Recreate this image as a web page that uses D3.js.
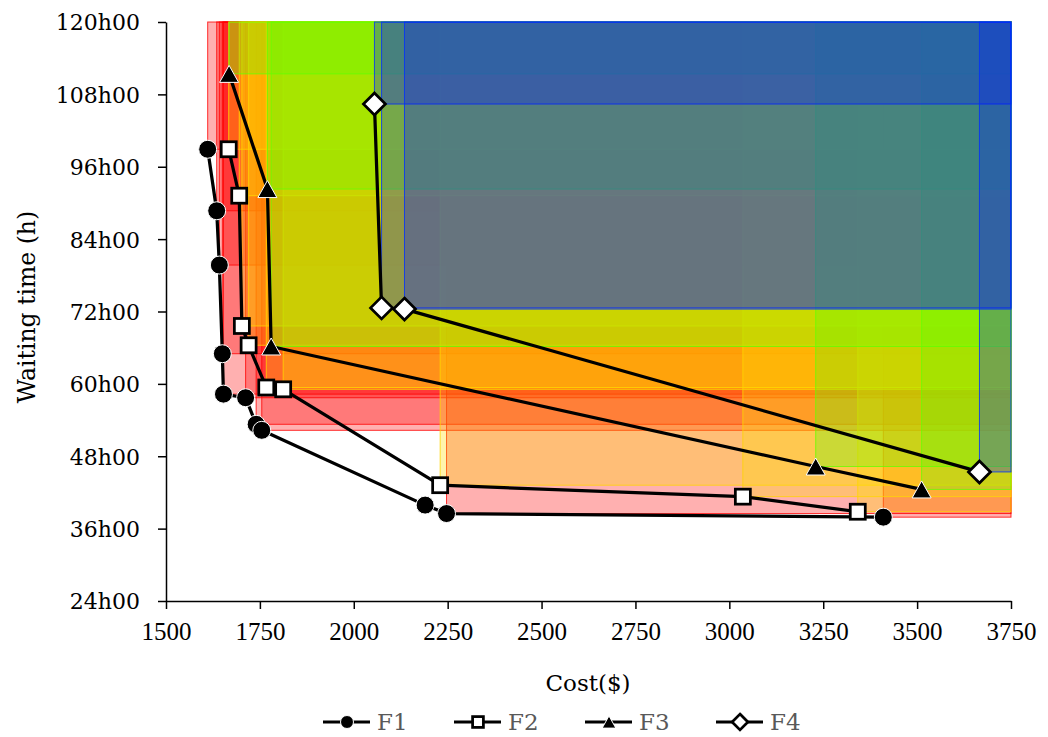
<!DOCTYPE html>
<html>
<head>
<meta charset="utf-8">
<script src="https://cdn.jsdelivr.net/npm/d3@7"></script>
<style>
  body { margin: 0; background: #fff; }
  svg text { font-family: "DejaVu Serif", serif; }
</style>
</head>
<body>
<svg id="chart" width="1048" height="737"></svg>
<script>
// values
const f1Cost = [1611, 1635, 1642, 1650, 1653, 1712, 1740, 1755, 2190, 2247, 3410];
const f1Time = [98.9, 88.7, 79.7, 65.0, 58.3, 57.7, 53.3, 52.3, 39.9, 38.5, 37.9];
const f1Box  = [1, 1, 1, 1, 1, 1, 1, 1, 0, 1, 1];   // point 9 has no shaded box in the original
const f2Cost = [1667, 1695, 1702, 1720, 1767, 1812, 2230, 3036, 3342];
const f2Time = [98.9, 91.2, 69.6, 66.4, 59.4, 59.1, 43.2, 41.3, 38.8];
const f3Cost = [1668, 1770, 1780, 3230, 3512];
const f3Time = [111.4, 92.3, 66.2, 46.3, 42.5];
const f4Cost = [2055, 2074, 2135, 3666];
const f4Time = [106.4, 72.6, 72.4, 45.4];

const xTicks = [1500, 1750, 2000, 2250, 2500, 2750, 3000, 3250, 3500, 3750];
const yTicks = [24, 36, 48, 60, 72, 84, 96, 108, 120];
const seriesNames = ["F1", "F2", "F3", "F4"];

const series = [
  { name: "F1", cost: f1Cost, time: f1Time, box: f1Box, fill: "#ff0000", fop: 0.31, stroke: "#ff0000", marker: "circle" },
  { name: "F2", cost: f2Cost, time: f2Time, fill: "#ffdc00", fop: 0.32, stroke: "#ffd400", marker: "square" },
  { name: "F3", cost: f3Cost, time: f3Time, fill: "#5eff00", fop: 0.32, stroke: "#66ff00", marker: "triangle" },
  { name: "F4", cost: f4Cost, time: f4Time, fill: "#0014ff", fop: 0.29, stroke: "#0030ff", marker: "diamond" }
];

const svg = d3.select("#chart");
const mLeft = 166, mRight = 1011, mTop = 22, mBottom = 601;

const x = d3.scaleLinear().domain([1500, 3750]).range([mLeft, mRight]);
const y = d3.scaleLinear().domain([24, 120]).range([mBottom, mTop]);

// shaded boxes: each point to the top-right corner
const boxes = svg.append("g");
series.forEach(s => {
  const pts = s.cost.map((c, i) => ({ c, t: s.time[i], b: s.box ? s.box[i] : 1 })).filter(d => d.b);
  boxes.selectAll(null)
    .data(pts)
    .enter()
    .append("rect")
    .attr("x", d => x(d.c))
    .attr("y", y(120))
    .attr("width", d => x(3750) - x(d.c))
    .attr("height", d => y(d.t) - y(120))
    .attr("fill", s.fill)
    .attr("fill-opacity", s.fop)
    .attr("stroke", s.stroke)
    .attr("stroke-opacity", 0.8)
    .attr("stroke-width", 1);
});

// axes
const xAxis = svg.append("g")
  .attr("transform", "translate(0," + mBottom + ")")
  .call(d3.axisBottom(x).tickValues(xTicks).tickFormat(d3.format("d")).tickSize(8).tickSizeOuter(0).tickPadding(13));
xAxis.selectAll("text").style("font-family", "Liberation Serif").style("font-size", "25px").attr("fill", "#000");

const yAxis = svg.append("g")
  .attr("transform", "translate(" + mLeft + ",0)")
  .call(d3.axisLeft(y).tickValues(yTicks).tickFormat(d => d + "h00").tickSize(8).tickSizeOuter(0).tickPadding(18));
yAxis.selectAll("text").style("font-size", "22px").attr("fill", "#000").attr("dy", "0.36em");

svg.selectAll(".domain, .tick line").attr("stroke", "#000").attr("stroke-width", 1.5);

svg.append("text")
  .attr("transform", "translate(27," + 307 + ") rotate(-90)")
  .attr("text-anchor", "middle")
  .attr("dy", "0.36em")
  .style("font-size", "23.5px")
  .text("Waiting time (h)");

svg.append("text")
  .attr("x", 588)
  .attr("y", 683)
  .attr("dy", "0.36em")
  .attr("text-anchor", "middle")
  .style("font-size", "23px")
  .text("Cost($)");

// markers
function drawMarker(g, type, cx, cy, k) {
  if (type === "circle") {
    g.append("circle").attr("cx", cx).attr("cy", cy).attr("r", 9 * k)
      .attr("fill", "#000").attr("stroke", "#fff").attr("stroke-width", 1);
  } else if (type === "square") {
    const h = 7.5 * k;
    g.append("rect").attr("x", cx - h).attr("y", cy - h).attr("width", 2 * h).attr("height", 2 * h)
      .attr("fill", "#fff").attr("stroke", "#000").attr("stroke-width", 2.75);
  } else if (type === "triangle") {
    const w = 9.5 * k, hh = 8.5 * k;
    g.append("path").attr("d", `M${cx},${cy - hh}L${cx + w},${cy + hh}L${cx - w},${cy + hh}Z`)
      .attr("fill", "#000").attr("stroke", "#fff").attr("stroke-width", 1);
  } else {
    const r = 11 * k;
    g.append("path").attr("d", `M${cx},${cy - r}L${cx + r},${cy}L${cx},${cy + r}L${cx - r},${cy}Z`)
      .attr("fill", "#fff").attr("stroke", "#000").attr("stroke-width", 2.75);
  }
}

const line = d3.line().x(d => x(d[0])).y(d => y(d[1]));
const lines = svg.append("g");
series.forEach(s => {
  lines.append("path")
    .datum(s.cost.map((c, i) => [c, s.time[i]]))
    .attr("d", line)
    .attr("fill", "none")
    .attr("stroke", "#000")
    .attr("stroke-width", 3.25)
    .attr("stroke-linejoin", "round");
});
const marks = svg.append("g");
series.forEach(s => {
  s.cost.forEach((c, i) => drawMarker(marks, s.marker, x(c), y(s.time[i]), 1));
});

// legend
const legend = svg.append("g");
const ly = 722;
seriesNames.forEach((n, i) => {
  const lx = 323 + i * 131;
  legend.append("line").attr("x1", lx).attr("x2", lx + 47).attr("y1", ly).attr("y2", ly)
    .attr("stroke", "#000").attr("stroke-width", 3);
  drawMarker(legend, series[i].marker, lx + 24, ly, 0.72);
  legend.append("text").attr("x", lx + 54).attr("y", ly).attr("dy", "0.36em")
    .style("font-size", "23px").attr("fill", "#595959").text(n);
});
</script>
</body>
</html>
